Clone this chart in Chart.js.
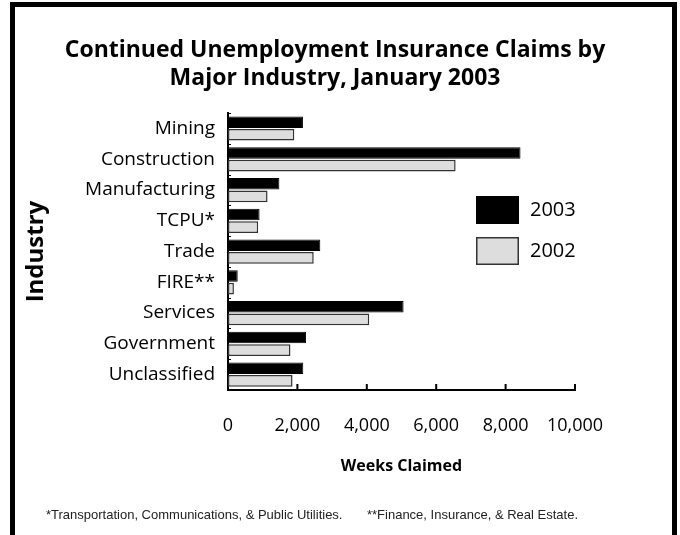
<!DOCTYPE html>
<html>
<head>
<meta charset="utf-8">
<title>Continued Unemployment Insurance Claims by Major Industry, January 2003</title>
<script src="https://cdn.jsdelivr.net/npm/chart.js@4.4.1/dist/chart.umd.min.js"></script>
<style>
  html, body { margin: 0; padding: 0; background: #fff; overflow: hidden; }
  .page { position: relative; width: 680px; height: 535px; }
  .page canvas { position: absolute; left: 0; top: 0; }
  .frame {
    position: absolute; left: 10px; top: 2px; width: 667px; height: 560px;
    box-sizing: border-box; border: 5px solid #000; border-bottom: none;
    pointer-events: none;
  }
  .note {
    position: absolute; top: 507px;
    font: 13px "Liberation Sans Narrow", "Liberation Sans", sans-serif;
    color: #222; white-space: nowrap;
  }
</style>
</head>
<body>
<div class="page">
  <canvas id="claimsChart" width="680" height="535"></canvas>
  <div class="frame"></div>
  <div class="note" style="left:46px">*Transportation, Communications, &amp; Public Utilities.</div>
  <div class="note" style="right:102px">**Finance, Insurance, &amp; Real Estate.</div>
</div>
<script>
const industries = ['Mining', 'Construction', 'Manufacturing', 'TCPU*', 'Trade',
                    'FIRE**', 'Services', 'Government', 'Unclassified'];
const weeks2003 = [2160, 8430, 1480, 910, 2660, 280, 5060, 2250, 2170];
const weeks2002 = [1910, 6560, 1140, 870, 2470, 170, 4070, 1800, 1860];
const xMin = 0;
const xMax = 10000;
const xStep = 2000;

const FONT = '"Open Sans", "Noto Sans", sans-serif';
Chart.defaults.color = '#000';
Chart.defaults.font.family = FONT;

// inward tick marks on the x axis, little stubs on the category axis
const axisMarks = {
  id: 'axisMarks',
  afterDatasetsDraw(chart) {
    const {ctx, chartArea, scales: {x, y}} = chart;
    ctx.save();
    ctx.strokeStyle = '#000';
    ctx.lineWidth = 2;
    ctx.beginPath();
    x.ticks.forEach((t, i) => {
      if (i === 0) return;
      const px = x.getPixelForTick(i);
      ctx.moveTo(px, chartArea.bottom);
      ctx.lineTo(px, chartArea.bottom - 6);
    });
    ctx.stroke();

    ctx.lineWidth = 1;
    ctx.beginPath();
    const half = (y.getPixelForValue(1) - y.getPixelForValue(0)) / 2;
    for (let i = 0; i < industries.length; i++) {
      const py = Math.round(y.getPixelForValue(i) - half) + 0.5;
      ctx.moveTo(chartArea.left, py);
      ctx.lineTo(chartArea.left + 3, py);
    }
    ctx.stroke();
    ctx.restore();
  }
};

// boxed legend sitting inside the plot
const boxLegend = {
  id: 'boxLegend',
  afterDraw(chart, args, opts) {
    const {ctx} = chart;
    ctx.save();
    ctx.font = `${opts.fontSize}px ${FONT}`;
    ctx.textBaseline = 'middle';
    chart.data.datasets.forEach((ds, i) => {
      const top = opts.y + i * opts.gap;
      ctx.fillStyle = ds.backgroundColor;
      ctx.fillRect(opts.x, top, opts.boxW, opts.boxH);
      ctx.strokeStyle = ds.borderColor;
      ctx.lineWidth = 1.5;
      ctx.strokeRect(opts.x + 0.75, top + 0.75, opts.boxW - 1.5, opts.boxH - 1.5);
      ctx.fillStyle = '#000';
      ctx.fillText(ds.label, opts.x + opts.boxW + 11, top + opts.boxH / 2);
    });
    ctx.restore();
  }
};

new Chart(document.getElementById('claimsChart'), {
  type: 'bar',
  data: {
    labels: industries,
    datasets: [
      {
        label: '2003',
        data: weeks2003,
        backgroundColor: '#000000',
        borderColor: '#000000',
        borderWidth: 1,
        borderSkipped: false
      },
      {
        label: '2002',
        data: weeks2002,
        backgroundColor: '#dddddd',
        borderColor: '#333333',
        borderWidth: 1.5,
        borderSkipped: false
      }
    ]
  },
  options: {
    indexAxis: 'y',
    responsive: false,
    animation: false,
    categoryPercentage: 0.82,
    barPercentage: 0.92,
    layout: { padding: { left: 0, right: 10, top: 0, bottom: 45 } },
    plugins: {
      legend: { display: false },
      tooltip: { enabled: false },
      title: {
        display: true,
        text: ['Continued Unemployment Insurance Claims by', 'Major Industry, January 2003'],
        color: '#000',
        font: { size: 23, weight: 'bold', lineHeight: 1.22 },
        padding: { top: 36, bottom: 21 }
      },
      boxLegend: { x: 476, y: 196, boxW: 43, boxH: 28, gap: 41, fontSize: 20 }
    },
    scales: {
      x: {
        min: xMin,
        max: xMax,
        grid: { display: false, drawTicks: false },
        border: { color: '#000', width: 2 },
        ticks: {
          stepSize: xStep,
          padding: 25,
          font: { size: 18 },
          callback: v => v.toLocaleString('en-US')
        },
        title: {
          display: true,
          text: 'Weeks Claimed',
          font: { size: 16, weight: 'bold' },
          padding: { top: 0, bottom: 14 }
        },
        afterFit: s => { s.height = 100; }
      },
      y: {
        grid: { display: false, drawTicks: false },
        border: { color: '#000', width: 2 },
        ticks: { padding: 13, font: { size: 19 } },
        title: {
          display: true,
          text: 'Industry',
          font: { size: 24, weight: 'bold' },
          padding: { top: 22, bottom: 0 }
        },
        afterFit: s => { s.width = 228; }
      },
      // empty right-hand axis that only reserves room beside the plot
      pad: {
        type: 'linear',
        position: 'right',
        grid: { display: false, drawTicks: false },
        border: { display: false },
        ticks: { display: false },
        afterFit: s => { s.width = 95; }
      }
    }
  },
  plugins: [axisMarks, boxLegend]
});
</script>
</body>
</html>
